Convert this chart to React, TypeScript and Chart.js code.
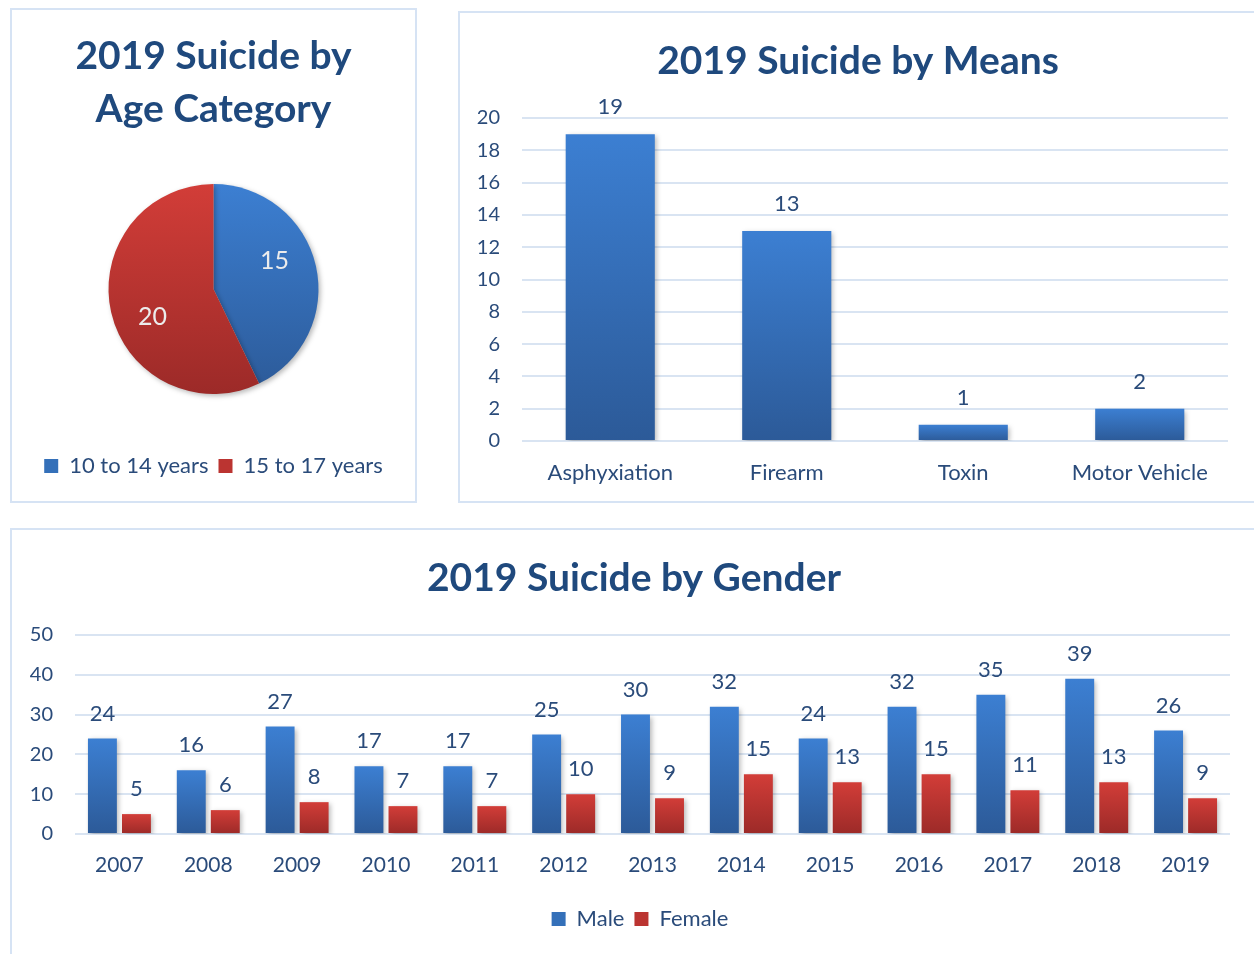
import React, { useEffect, useRef } from "react";
import { Chart, registerables } from "chart.js";

Chart.register(...registerables);

// ---------- data ----------
const ageLabels = ["10 to 14 years", "15 to 17 years"];
const ageValues = [15, 20];

const meansCategories = ["Asphyxiation", "Firearm", "Toxin", "Motor Vehicle"];
const meansValues = [19, 13, 1, 2];
const meansTicks = [0, 2, 4, 6, 8, 10, 12, 14, 16, 18, 20];

const years = ["2007", "2008", "2009", "2010", "2011", "2012", "2013", "2014", "2015", "2016", "2017", "2018", "2019"];
const maleValues = [24, 16, 27, 17, 17, 25, 30, 32, 24, 32, 35, 39, 26];
const femaleValues = [5, 6, 8, 7, 7, 10, 9, 15, 13, 15, 11, 13, 9];
const genderTicks = [0, 10, 20, 30, 40, 50];

// ---------- styles ----------
const FONT = "Lato, 'Open Sans', sans-serif";
const TITLE_COLOR = "#1f497d";
const TEXT_COLOR = "#2a4b7a";
const GRID_COLOR = "#d9e4f2";
const BLUE = ["#3c7fd2", "#2c5a98"];
const RED = ["#d23d38", "#9c2a28"];
const BLUE_SOLID = "#3470b9";
const RED_SOLID = "#bb3431";

function barFill(colors: string[]) {
  return (c: any) => {
    const chart = c.chart;
    if (!chart.chartArea || c.type !== "data") return colors[0];
    const y = chart.scales.y;
    const v = c.raw as number;
    const top = y.getPixelForValue(v);
    const bottom = y.getPixelForValue(0);
    if (!isFinite(top) || !isFinite(bottom) || bottom - top < 1) return colors[0];
    const g = chart.ctx.createLinearGradient(0, top, 0, bottom);
    g.addColorStop(0, colors[0]);
    g.addColorStop(1, colors[1]);
    return g;
  };
}

const PIE_RADIUS = 105;
function pieFill(c: any) {
  const cols = c.dataIndex === 0 ? BLUE : RED;
  const chart = c.chart;
  const a = chart.chartArea;
  if (!a) return cols[0];
  const cy = (a.top + a.bottom) / 2;
  const g = chart.ctx.createLinearGradient(0, cy - PIE_RADIUS, 0, cy + PIE_RADIUS);
  g.addColorStop(0, cols[0]);
  g.addColorStop(1, cols[1]);
  return g;
}

// shifts the title / legend blocks horizontally after layout
const shiftBoxes = {
  id: "shiftBoxes",
  afterLayout(chart: any, _args: any, opts: any) {
    const t = chart.titleBlock;
    if (t && opts.title) {
      t.left += opts.title;
      t.right += opts.title;
    }
    const l = chart.legend;
    if (l && opts.legend) {
      l.left += opts.legend;
      l.right += opts.legend;
    }
  },
};

const valueLabels = {
  id: "valueLabels",
  beforeDatasetsDraw(chart: any) {
    const ctx = chart.ctx;
    ctx.save();
    ctx.shadowColor = "rgba(0,0,0,0.28)";
    ctx.shadowBlur = 5;
    ctx.shadowOffsetX = 2;
    ctx.shadowOffsetY = 2;
  },
  afterDatasetsDraw(chart: any, _args: any, opts: any) {
    const ctx = chart.ctx;
    ctx.restore();
    ctx.save();
    ctx.font = opts.font;
    ctx.fillStyle = opts.color;
    ctx.textAlign = "center";
    ctx.textBaseline = "middle";
    chart.data.datasets.forEach((ds: any, di: number) => {
      const meta = chart.getDatasetMeta(di);
      meta.data.forEach((el: any, i: number) => {
        const v = ds.data[i];
        if (meta.type === "pie") {
          const mid = (el.startAngle + el.endAngle) / 2 - (opts.angleShift || 0);
          const r = el.outerRadius * 0.64;
          ctx.fillText(String(v), el.x + Math.cos(mid) * r, el.y + Math.sin(mid) * r);
        } else {
          ctx.fillText(String(v), el.x, el.y - opts.offset);
        }
      });
    });
    ctx.restore();
  },
};

function useChart(config: () => any) {
  const ref = useRef<HTMLCanvasElement | null>(null);
  useEffect(() => {
    if (!ref.current) return;
    const chart = new Chart(ref.current, config());
    return () => chart.destroy();
  }, []);
  return ref;
}

function Panel(props: { left: number; top: number; width: number; height: number; children?: any }) {
  const { left, top, width, height } = props;
  return (
    <div
      style={{
        position: "absolute",
        left,
        top,
        width,
        height,
        border: "2px solid #d6e3f4",
        boxSizing: "border-box",
        background: "#fff",
      }}
    >
      <div style={{ position: "absolute", left: -2, top: -2, width, height }}>{props.children}</div>
    </div>
  );
}

function AgePie() {
  const ref = useChart(() => ({
    type: "pie",
    data: {
      labels: ageLabels,
      datasets: [{ data: ageValues, backgroundColor: pieFill, borderWidth: 0, radius: PIE_RADIUS }],
    },
    plugins: [valueLabels],
    options: {
      animation: false,
      responsive: false,
      layout: { padding: { bottom: 16 } },
      plugins: {
        tooltip: { enabled: false },
        title: {
          display: true,
          text: ["2019 Suicide by", "Age Category"],
          color: TITLE_COLOR,
          font: { family: FONT, size: 39, weight: "bold", lineHeight: 53 / 39 },
          padding: { top: 22, bottom: -3 },
        },
        legend: {
          position: "bottom",
          labels: {
            color: TEXT_COLOR,
            font: { family: FONT, size: 22 },
            boxWidth: 14,
            boxHeight: 14,
            padding: 10,
            generateLabels: () =>
              ageLabels.map((t, i) => ({
                text: t,
                fillStyle: i === 0 ? BLUE_SOLID : RED_SOLID,
                strokeStyle: i === 0 ? BLUE_SOLID : RED_SOLID,
                lineWidth: 0,
                fontColor: TEXT_COLOR,
                index: i,
                hidden: false,
              })),
          },
        },
        valueLabels: { font: `25px ${FONT}`, color: "#ececec", angleShift: 0.21 },
      },
    },
  }));
  return <canvas ref={ref} width={407} height={495} style={{ width: 407, height: 495, display: "block" }} />;
}

function MeansBar() {
  const ref = useChart(() => ({
    type: "bar",
    data: {
      labels: meansCategories,
      datasets: [
        {
          label: "Count",
          data: meansValues,
          backgroundColor: barFill(BLUE),
          categoryPercentage: 1,
          barPercentage: 0.505,
        },
      ],
    },
    plugins: [valueLabels, shiftBoxes],
    options: {
      animation: false,
      responsive: false,
      layout: { padding: { left: 0, right: 26, top: 0, bottom: 0 } },
      scales: {
        x: {
          grid: { display: false, drawTicks: false },
          border: { display: false },
          ticks: { color: TEXT_COLOR, font: { family: FONT, size: 22 }, padding: 19 },
          afterFit: (s: any) => {
            s.height = 62;
          },
        },
        y: {
          min: 0,
          max: 20,
          afterBuildTicks: (s: any) => {
            s.ticks = meansTicks.map((v) => ({ value: v }));
          },
          grid: { color: GRID_COLOR, lineWidth: 2, drawTicks: false },
          border: { display: false },
          ticks: { color: TEXT_COLOR, font: { family: FONT, size: 20 }, padding: 22 },
          afterFit: (s: any) => {
            s.width = 64;
          },
        },
      },
      plugins: {
        tooltip: { enabled: false },
        legend: { display: false },
        shiftBoxes: { title: 15 },
        title: {
          display: true,
          text: "2019 Suicide by Means",
          color: TITLE_COLOR,
          font: { family: FONT, size: 39, weight: "bold", lineHeight: 1.2 },
          padding: { top: 27, bottom: 33.2 },
        },
        valueLabels: { font: `22px ${FONT}`, color: TEXT_COLOR, offset: 27 },
      },
    },
  }));
  return <canvas ref={ref} width={796} height={492} style={{ width: 796, height: 492, display: "block" }} />;
}

function GenderBar() {
  const ref = useChart(() => ({
    type: "bar",
    data: {
      labels: years,
      datasets: [
        {
          label: "Male",
          data: maleValues,
          backgroundColor: barFill(BLUE),
          categoryPercentage: 0.766,
          barPercentage: 0.85,
        },
        {
          label: "Female",
          data: femaleValues,
          backgroundColor: barFill(RED),
          categoryPercentage: 0.766,
          barPercentage: 0.85,
        },
      ],
    },
    plugins: [valueLabels, shiftBoxes],
    options: {
      animation: false,
      responsive: false,
      layout: { padding: { left: 0, right: 24, top: 0, bottom: 14 } },
      scales: {
        x: {
          grid: { display: false, drawTicks: false },
          border: { display: false },
          ticks: { color: TEXT_COLOR, font: { family: FONT, size: 21 }, padding: 19 },
          afterFit: (s: any) => {
            s.height = 64;
          },
        },
        y: {
          min: 0,
          max: 50,
          afterBuildTicks: (s: any) => {
            s.ticks = genderTicks.map((v) => ({ value: v }));
          },
          grid: { color: GRID_COLOR, lineWidth: 2, drawTicks: false },
          border: { display: false },
          ticks: { color: TEXT_COLOR, font: { family: FONT, size: 20 }, padding: 22 },
          afterFit: (s: any) => {
            s.width = 65;
          },
        },
      },
      plugins: {
        tooltip: { enabled: false },
        shiftBoxes: { title: 14, legend: 20 },
        legend: {
          position: "bottom",
          labels: {
            color: TEXT_COLOR,
            font: { family: FONT, size: 22 },
            boxWidth: 14,
            boxHeight: 14,
            padding: 10,
            generateLabels: (chart: any) =>
              chart.data.datasets.map((ds: any, i: number) => ({
                text: ds.label,
                fillStyle: i === 0 ? BLUE_SOLID : RED_SOLID,
                strokeStyle: i === 0 ? BLUE_SOLID : RED_SOLID,
                lineWidth: 0,
                fontColor: TEXT_COLOR,
                datasetIndex: i,
                hidden: false,
              })),
          },
        },
        title: {
          display: true,
          text: "2019 Suicide by Gender",
          color: TITLE_COLOR,
          font: { family: FONT, size: 39, weight: "bold", lineHeight: 1.2 },
          padding: { top: 27, bottom: 33.2 },
        },
        valueLabels: { font: `22px ${FONT}`, color: TEXT_COLOR, offset: 25 },
      },
    },
  }));
  return <canvas ref={ref} width={1244} height={426} style={{ width: 1244, height: 426, display: "block" }} />;
}

export default function App() {
  return (
    <div style={{ position: "fixed", left: 0, top: 0, width: 1254, height: 954, background: "#fff", overflow: "hidden" }}>
      <Panel left={10} top={8} width={407} height={495}>
        <AgePie />
      </Panel>
      <Panel left={458} top={11} width={800} height={492}>
        <MeansBar />
      </Panel>
      <Panel left={10} top={528} width={1250} height={440}>
        <GenderBar />
      </Panel>
    </div>
  );
}
